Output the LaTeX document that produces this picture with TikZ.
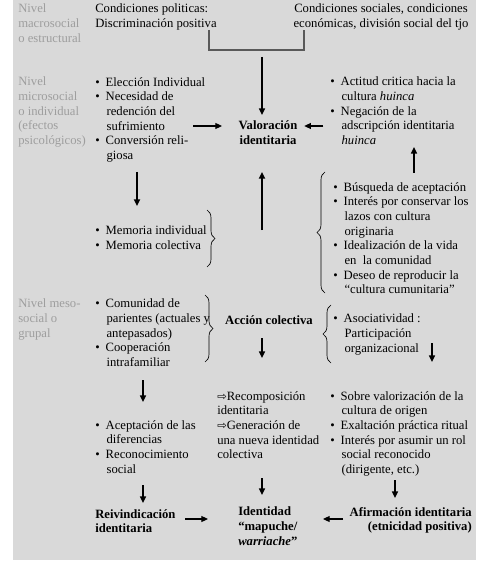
\documentclass[tikz,border=0pt]{standalone}
\usepackage{fontspec}
\setmainfont{Liberation Serif}
\newfontfamily\flechafont{DejaVu Sans}
\usetikzlibrary{arrows.meta,decorations.pathreplacing}
\definecolor{fondo}{RGB}{217,217,217}
\definecolor{nivelgris}{RGB}{158,158,158}
\newcommand\bul{\textbullet\hspace{4.5pt}}
\newcommand\sig{\hspace*{8.5pt}}
\newcommand\impl{{\flechafont\fontsize{8.5}{8.5}\selectfont ⇨}}
\tikzset{
  texto/.style={anchor=north west, inner sep=0pt, align=left, yshift=-2.2pt,
    font=\fontsize{9.5}{11}\selectfont, execute at begin node=\strut},
  nivel/.style={texto, text=nivelgris},
  concepto/.style={texto, font=\fontsize{9.5}{11}\selectfont\bfseries},
  flecha/.style={-{Triangle[length=5pt,width=4.5pt]}, line width=1.1pt},
  flechah/.style={flecha, line width=0.8pt},
  llave/.style={decorate, decoration={brace, amplitude=6pt}, line width=0.5pt},
  corchete/.style={draw=black!65, line width=0.8pt}
}
\begin{document}
\begin{tikzpicture}[x=0.75pt, y=-0.75pt]
    \useasboundingbox (0,0) rectangle (476,577);
    \fill[fondo] (13,0) rectangle (476,560);
    % nivel macrosocial
    \node[nivel] (lvlA) at (18,1) {Nivel\\macrosocial\\o estructural};
    \node[texto] (polA) at (95,1) {Condiciones politicas:\\Discriminación positiva};
    \node[texto, anchor=north, align=center] (socA) at (381,1) {Condiciones sociales, condiciones\\económicas, división social del tjo};
    \draw[corchete] (209,30) coordinate (br1) -- (209,50) -- (304,50) -- (304,30) coordinate (br2);
    % nivel microsocial
    \node[nivel] (lvlB) at (18,74) {Nivel\\microsocial\\o individual\\(efectos\\psicológicos)};
    \node[texto] (elecB) at (95,74) {\bul Elección Individual\\\bul Necesidad de\\\sig redención del\\\sig sufrimiento\\\bul Conversión reli-\\\sig giosa};
    \node[concepto, anchor=north, align=center] (valB) at (268,118) {Valoración\\identitaria};
    \node[texto] (actB) at (330,74) {\bul Actitud critica hacia la\\\sig cultura \textit{huinca}\\\bul Negación de la\\\sig adscripción identitaria\\\sig \textit{huinca}};
    \node[texto] (memB) at (95,223) {\bul Memoria individual\\\bul Memoria colectiva};
    \node[texto] (busB) at (333,179) {\bul Búsqueda de aceptación\\\bul Interés por conservar los\\\sig lazos con cultura\\\sig originaria\\\bul Idealización de la vida\\\sig en\ \ la comunidad\\\bul Deseo de reproducir la\\\sig “cultura cumunitaria”};
    % nivel mesosocial
    \node[nivel] (lvlC) at (18,296) {Nivel meso-\\social o\\grupal};
    \node[texto] (comC) at (95,296) {\bul Comunidad de\\\sig parientes (actuales y\\\sig antepasados)\\\bul Cooperación\\\sig intrafamiliar};
    \node[concepto, anchor=north] (accC) at (269,311) {Acción colectiva};
    \node[texto] (asoC) at (333,311) {\bul Asociatividad :\\\sig Participación\\\sig organizacional};
    \node[texto] (aceD) at (95,417) {\bul Aceptación de las\\\sig diferencias\\\bul Reconocimiento\\\sig social};
    \node[texto] (recD) at (217,388) {\impl Recomposición\\identitaria\\\impl Generación de\\una nueva identidad\\colectiva};
    \node[texto] (sobD) at (330,388) {\bul Sobre valorización de la\\\sig cultura de origen\\\bul Exaltación práctica ritual\\\bul Interés por asumir un rol\\\sig social reconocido\\\sig (dirigente, etc.)};
    \node[concepto] (reiE) at (95,506) {Reivindicación\\identitaria};
    \node[concepto] (idE) at (238,504) {Identidad\\“mapuche/\\\textit{warriache}”};
    \node[concepto, anchor=north east, align=right] (afiE) at (472,504) {Afirmación identitaria\\(etnicidad positiva)};
    % llaves
    \draw[llave] (207,210) -- (207,267);
    \draw[llave] (205,295) -- (205,362);
    \draw[llave] (325,293) -- (325,172);
    \draw[llave] (331,363) -- (331,305);
    % flechas
    \coordinate (a1) at (262,57);  \coordinate (b1) at (262,115);
    \coordinate (a2) at (193,126); \coordinate (b2) at (222,126);
    \coordinate (a4) at (414,173); \coordinate (b4) at (414,147);
    \coordinate (a5) at (137,172); \coordinate (b5) at (137,206);
    \coordinate (a6) at (262,230); \coordinate (b6) at (262,172);
    \coordinate (a7) at (262,338); \coordinate (b7) at (262,358);
    \coordinate (a8) at (432,343); \coordinate (b8) at (432,362);
    \coordinate (a9) at (143,380); \coordinate (b9) at (143,402);
    \coordinate (a10) at (143,485); \coordinate (b10) at (143,503);
    \coordinate (a11) at (262,478); \coordinate (b11) at (262,495);
    \coordinate (a12) at (395,480); \coordinate (b12) at (395,498);
    \coordinate (a13) at (185,519); \coordinate (b13) at (208,519);
    \coordinate (a14) at (343,519); \coordinate (b14) at (323,519);
    \draw[flecha] (a1) -- (b1);
    \draw[flechah] (a2) -- (b2);
    \draw[flechah] ([xshift=-5]actB.west |- b2) -- ([xshift=5]valB.east |- b2);
    \draw[flecha] (a4) -- (b4);
    \draw[flecha, line width=1.5pt] (a5) -- (b5);
    \draw[flecha, line width=1.4pt] (a6) -- (b6);
    \draw[flecha] (a7) -- (b7);
    \draw[flecha] (a8) -- (b8);
    \draw[flecha] (a9) -- (b9);
    \draw[flecha] (a10) -- (b10);
    \draw[flecha] (a11) -- (b11);
    \draw[flecha] (a12) -- (b12);
    \draw[flechah] (a13) -- (b13);
    \draw[flechah] (a14) -- (b14);
\end{tikzpicture}
\end{document}
